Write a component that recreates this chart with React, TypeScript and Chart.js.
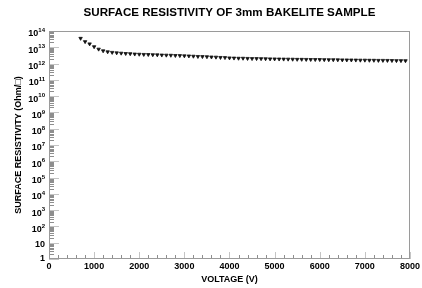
import React, { useEffect, useRef } from "react";
import Chart from "chart.js/auto";

const TITLE = "SURFACE RESISTIVITY OF 3mm BAKELITE SAMPLE";
const X_TITLE = "VOLTAGE (V)";
const Y_TITLE = "SURFACE RESISTIVITY (Ohm/\u25A1)";

const voltages = [
  700, 800, 900, 1000, 1100, 1200, 1300, 1400, 1500, 1600, 1700, 1800, 1900,
  2000, 2100, 2200, 2300, 2400, 2500, 2600, 2700, 2800, 2900, 3000, 3100, 3200,
  3300, 3400, 3500, 3600, 3700, 3800, 3900, 4000, 4100, 4200, 4300, 4400, 4500,
  4600, 4700, 4800, 4900, 5000, 5100, 5200, 5300, 5400, 5500, 5600, 5700, 5800,
  5900, 6000, 6100, 6200, 6300, 6400, 6500, 6600, 6700, 6800, 6900, 7000, 7100,
  7200, 7300, 7400, 7500, 7600, 7700, 7800, 7900,
];

const resistivity = [
  3.5e13, 2.2e13, 1.6e13, 1.07e13, 7.6e12, 6.0e12, 5.2e12, 4.8e12, 4.5e12,
  4.3e12, 4.1e12, 4.0e12, 3.8e12, 3.7e12, 3.6e12, 3.55e12, 3.45e12, 3.4e12,
  3.3e12, 3.25e12, 3.2e12, 3.1e12, 3.05e12, 2.95e12, 2.9e12, 2.8e12, 2.7e12,
  2.65e12, 2.6e12, 2.5e12, 2.45e12, 2.35e12, 2.3e12, 2.2e12, 2.15e12, 2.1e12,
  2.1e12, 2.05e12, 2.0e12, 2.0e12, 1.98e12, 1.95e12, 1.92e12, 1.9e12, 1.88e12,
  1.86e12, 1.85e12, 1.83e12, 1.8e12, 1.8e12, 1.78e12, 1.76e12, 1.75e12,
  1.74e12, 1.72e12, 1.7e12, 1.7e12, 1.68e12, 1.66e12, 1.65e12, 1.64e12,
  1.62e12, 1.6e12, 1.6e12, 1.58e12, 1.57e12, 1.55e12, 1.55e12, 1.54e12,
  1.52e12, 1.5e12, 1.5e12, 1.48e12,
];

const xTickValues = [0, 1000, 2000, 3000, 4000, 5000, 6000, 7000, 8000];
const yTickExponents = [0, 1, 2, 3, 4, 5, 6, 7, 8, 9, 10, 11, 12, 13, 14];

const FONT = "'Liberation Sans', 'DejaVu Sans', Arial, sans-serif";

const decorPlugin = {
  id: "decor",
  beforeDatasetsDraw(chart: any) {
    const { ctx, chartArea: a, scales } = chart;
    const xs = scales.x;
    const ys = scales.y;
    ctx.save();
    ctx.lineWidth = 1;
    const line = (x1: number, y1: number, x2: number, y2: number, c: string) => {
      ctx.strokeStyle = c;
      ctx.beginPath();
      ctx.moveTo(x1, y1);
      ctx.lineTo(x2, y2);
      ctx.stroke();
    };
    for (let i = 0; i < yTickExponents.length - 1; i++) {
      const k = yTickExponents[i];
      for (let m = 2; m <= 9; m++) {
        const py = Math.round(ys.getPixelForValue(m * Math.pow(10, k))) + 0.5;
        line(a.left, py, a.left + 5, py, "#8e8e8e");
      }
    }
    for (const k of yTickExponents) {
      const py = Math.round(ys.getPixelForValue(Math.pow(10, k))) + 0.5;
      line(a.left, py, a.left + 10, py, "#c4c4c4");
    }
    const minorStep = (xTickValues[1] - xTickValues[0]) / 5;
    for (let i = 0; i < xTickValues.length - 1; i++) {
      for (let j = 1; j < 5; j++) {
        const px = Math.round(xs.getPixelForValue(xTickValues[i] + j * minorStep)) + 0.5;
        line(px, a.bottom, px, a.bottom - 4, "#8e8e8e");
      }
    }
    for (const v of xTickValues) {
      const px = Math.round(xs.getPixelForValue(v)) + 0.5;
      line(px, a.bottom, px, a.bottom - 7, "#c4c4c4");
    }
    ctx.strokeStyle = "#9a9a9a";
    ctx.strokeRect(
      Math.round(a.left) + 0.5,
      Math.round(a.top) + 0.5,
      Math.round(a.width) - 1,
      Math.round(a.height) - 1
    );
    ctx.restore();
  },
  afterDraw(chart: any) {
    const { ctx, chartArea: a, scales } = chart;
    const ys = scales.y;
    ctx.save();
    ctx.fillStyle = "#000";
    ctx.textBaseline = "middle";
    const right = a.left - 4;
    for (const k of yTickExponents) {
      const py = ys.getPixelForValue(Math.pow(10, k));
      ctx.font = `bold 9px ${FONT}`;
      if (k === 0) {
        ctx.textAlign = "right";
        ctx.fillText("1", right, py);
      } else if (k === 1) {
        ctx.textAlign = "right";
        ctx.fillText("10", right, py + 1.5);
      } else {
        const exp = String(k);
        ctx.font = `bold 6px ${FONT}`;
        const ew = ctx.measureText(exp).width;
        ctx.textAlign = "left";
        ctx.fillText(exp, right - ew, py - 0.5);
        ctx.font = `bold 9px ${FONT}`;
        ctx.textAlign = "right";
        ctx.fillText("10", right - ew, py + 3);
      }
    }
    ctx.restore();
  },
};

export default function App() {
  const ref = useRef<HTMLCanvasElement | null>(null);
  useEffect(() => {
    if (!ref.current) return;
    const chart = new Chart(ref.current, {
      type: "scatter",
      data: {
        datasets: [
          {
            data: voltages.map((v, i) => ({ x: v, y: resistivity[i] })),
            showLine: false,
            pointStyle: "triangle",
            rotation: 180,
            pointRadius: 2,
            borderColor: "#111",
            backgroundColor: "#111",
            borderWidth: 0.8,
          },
        ],
      },
      options: {
        animation: false,
        responsive: false,
        devicePixelRatio: 1,
        layout: { padding: { left: 0, right: 10, top: 0, bottom: 0 } },
        plugins: {
          legend: { display: false },
          tooltip: { enabled: false },
          title: {
            display: true,
            text: TITLE,
            fullSize: false,
            color: "#000",
            font: { family: FONT, size: 11.6, weight: "bold" },
            padding: { top: 6, bottom: 11 },
          },
        },
        scales: {
          x: {
            type: "linear",
            min: 0,
            max: 8000,
            afterBuildTicks: (s: any) => {
              s.ticks = xTickValues.map((v) => ({ value: v }));
            },
            afterFit: (s: any) => {
              s.height = 29;
            },
            ticks: {
              autoSkip: false,
              maxRotation: 0,
              padding: 2,
              color: "#000",
              font: { family: FONT, size: 9, weight: "bold" },
              callback: (v: any) => String(v),
            },
            grid: { display: false, drawTicks: false },
            border: { display: false },
            title: {
              display: true,
              text: X_TITLE,
              color: "#000",
              font: { family: FONT, size: 9, weight: "bold" },
              padding: { top: 0, bottom: 3 },
            },
          },
          y: {
            type: "logarithmic",
            min: 1,
            max: 1e14,
            afterFit: (s: any) => {
              s.width = 49;
            },
            ticks: { display: false },
            grid: { display: false, drawTicks: false },
            border: { display: false },
            title: {
              display: true,
              text: Y_TITLE,
              color: "#000",
              font: { family: FONT, size: 9, weight: "bold" },
              padding: { top: 13.6, bottom: 0 },
            },
          },
        },
      },
      plugins: [decorPlugin],
    } as any);
    return () => chart.destroy();
  }, []);
  return (
    <div style={{ position: "absolute", left: 0, top: 0, width: 422, height: 288, background: "#fff" }}>
      <canvas ref={ref} width={422} height={288} style={{ display: "block" }} />
    </div>
  );
}
